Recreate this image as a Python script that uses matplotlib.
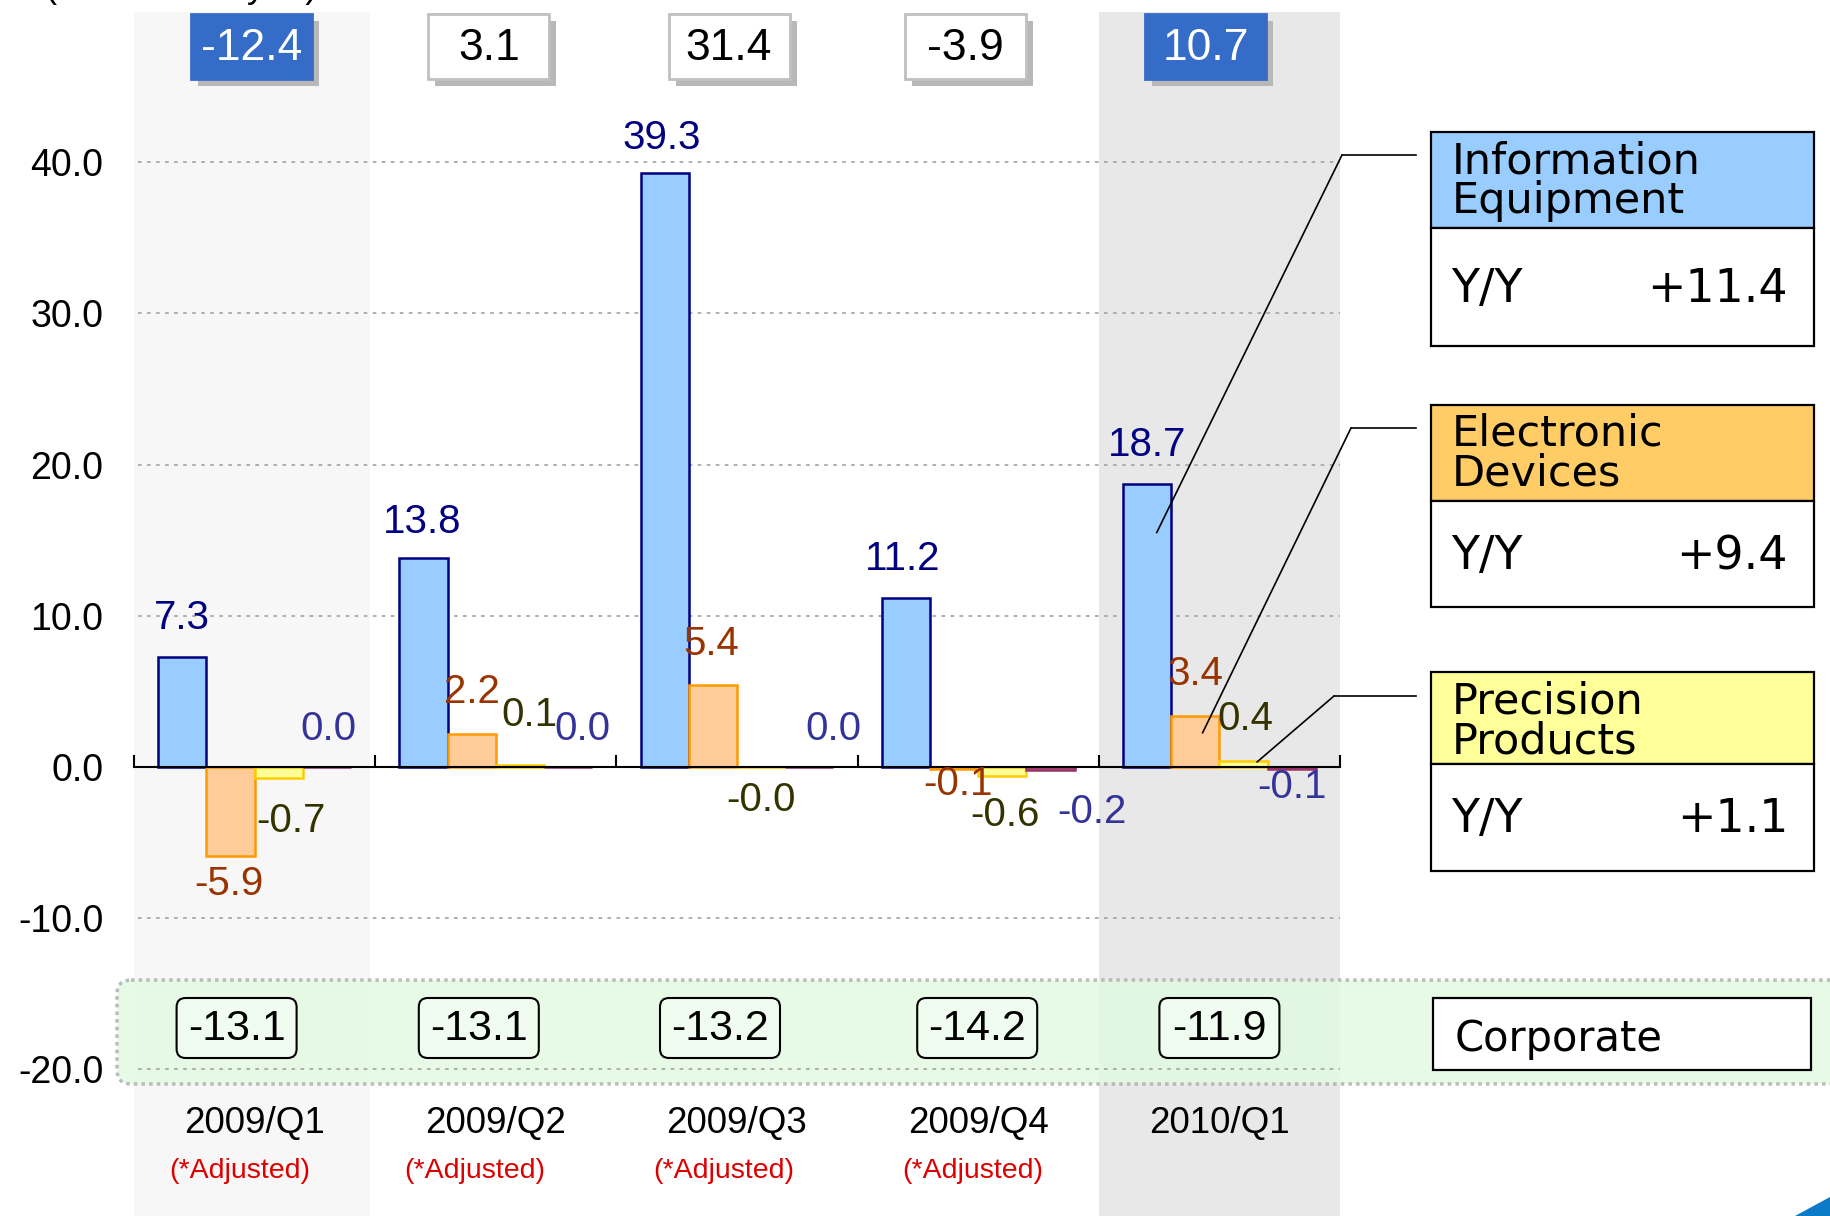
import matplotlib
matplotlib.use("Agg")
import matplotlib.pyplot as plt
import matplotlib.transforms as mtransforms
from matplotlib.patches import Rectangle, FancyBboxPatch, Polygon
import numpy as np

# ---- data ----
quarters = ["2009/Q1", "2009/Q2", "2009/Q3", "2009/Q4", "2010/Q1"]
adjusted = [True, True, True, True, False]
info_equip = [7.3, 13.8, 39.3, 11.2, 18.7]
elec_dev = [-5.9, 2.2, 5.4, -0.1, 3.4]
precision = [-0.7, 0.1, -0.0, -0.6, 0.4]
others = [0.0, 0.0, 0.0, -0.2, -0.1]
totals = [-12.4, 3.1, 31.4, -3.9, 10.7]
corporate = [-13.1, -13.1, -13.2, -14.2, -11.9]
highlight = [True, False, False, False, True]
seg_names = [["Information", "Equipment"], ["Electronic", "Devices"], ["Precision", "Products"]]
seg_yy = ["+11.4", "+9.4", "+1.1"]

# ---- styling / layout ----
W, H = 1830, 1216
fills = ['#99ccff', '#ffcc99', '#ffff99', '#cc6699']
edges = ['#000080', '#ff9900', '#ffcc00', '#993366']
lab_colors = ['#000080', '#993300', '#333300', '#333399']
head_colors = ['#99ccff', '#ffcc66', '#ffff99']
offsets = [-0.3, -0.1, 0.1, 0.3]
# label offsets in points (dx, dy) per series / quarter
lab_dx = [[0, -1, -2, -2, 0], [-1, 0, -1, 3, 0], [9, 7, 0, 2, 1], [1, 10, 17, 30, 0]]
lab_dy = [[28, 26, 25, 28, 28], [-20, 30, 30, -11, 30], [-31, 36, -24, -28, 30], [27, 27, 27, -30, -13]]
top_dx = [-3, -7, -8, -13, -14]
corp_dx = [-18, -17, -17, -1, 0]
adj_dx = [-15, -21, -13, -5, 0]

NARROW = ['Liberation Sans Narrow', 'Liberation Sans']
ARIAL = 'Liberation Sans'
WIDE = 'DejaVu Sans'

fig = plt.figure(figsize=(W / 100, H / 100), dpi=100)
# pixel coords from the top-left corner of the figure
px = mtransforms.Affine2D().scale(1 / W, -1 / H).translate(0, 1) + fig.transFigure

ax = fig.add_axes([134 / W, 0, 1206 / W, 1])
ax.set_xlim(-0.5, 4.5)
zero_px, unit_px = 767, 15.12
ax.set_ylim(-(H - zero_px) / unit_px, zero_px / unit_px)
ax.patch.set_alpha(0)

x = np.arange(len(quarters))

# shaded columns
ax.axvspan(-0.52, 0.48, ymin=0, ymax=1 - 12 / H, color='#f7f7f7', zorder=0, lw=0)
ax.axvspan(3.5, 4.5, ymin=0, ymax=1 - 12 / H, color='#e8e8e8', zorder=0, lw=0)

# corporate band
band = FancyBboxPatch((117, 980), 1800, 104, boxstyle="round,pad=0,rounding_size=14",
                      transform=px, fc='#e2fae2', ec='#b0b0b0', lw=2.5, ls=(0, (1, 1.2)),
                      alpha=0.85, zorder=0.8, clip_on=False)
ax.add_patch(band)

# grid
ax.hlines([-20, -10, 10, 20, 30, 40], -0.52, 4.5, colors='#a8a8a8',
          linestyles=(0, (2, 3)), lw=1.3, zorder=1)

# axes
ax.set_yticks(np.arange(-20, 41, 10))
ax.set_yticklabels([f"{t:.1f}" for t in np.arange(-20, 41, 10)], fontsize=27, family=ARIAL)
ax.tick_params(axis='y', length=0, pad=22)
ax.set_xticks(np.arange(-0.5, 5, 1))
ax.tick_params(axis='x', direction='in', length=9, width=1.5, labelbottom=False)
ax.spines['bottom'].set_position(('data', 0))
ax.spines['bottom'].set_linewidth(1.5)
for s in ['left', 'right', 'top']:
    ax.spines[s].set_visible(False)

# bars + labels
series = [info_equip, elec_dev, precision, others]
for s, vals in enumerate(series):
    ax.bar(x + offsets[s], vals, 0.2, color=fills[s], edgecolor=edges[s], lw=1.8, zorder=2)
    for i, v in enumerate(vals):
        ax.annotate(f"{v:.1f}", (x[i] + offsets[s], v), xytext=(lab_dx[s][i], lab_dy[s][i]),
                    textcoords='offset points', ha='center', va='center',
                    fontsize=29, family=ARIAL, color=lab_colors[s], zorder=3)

# group centres in pixel coords
centres = [ax.transData.transform((i, 0))[0] for i in x]

# top total boxes
bw, bh = 121, 65
for i, t in enumerate(totals):
    cx = centres[i] + top_dx[i]
    ax.add_patch(Rectangle((cx - bw / 2 + 7, 14 + 7), bw, bh, transform=px, fc='#b8b8b8',
                           ec='none', zorder=5, clip_on=False))
    if highlight[i]:
        fc, ec, tc = '#356cc8', '#356cc8', 'white'
    else:
        fc, ec, tc = 'white', '#c0c0c0', 'black'
    ax.add_patch(Rectangle((cx - bw / 2, 14), bw, bh, transform=px, fc=fc, ec=ec,
                           lw=2, zorder=6, clip_on=False))
    ax.text(cx, 48, f"{t:.1f}", transform=px, ha='center', va='center', fontsize=32,
            family=ARIAL, color=tc, zorder=7)

# corporate boxes
for i, c in enumerate(corporate):
    cx = centres[i] + corp_dx[i]
    ax.add_patch(FancyBboxPatch((cx - 60, 998), 120, 60, boxstyle="round,pad=0,rounding_size=9",
                                transform=px, fc='#f0fcf0', ec='black', lw=1.5, zorder=5,
                                clip_on=False))
    ax.text(cx, 1029, f"{c:.1f}", transform=px, ha='center', va='center', fontsize=31,
            family=ARIAL, zorder=6)

# category labels
for i, q in enumerate(quarters):
    ax.text(centres[i], 1124, q, transform=px, ha='center', va='center', fontsize=26.5,
            family=NARROW, zorder=6)
    if adjusted[i]:
        ax.text(centres[i] + adj_dx[i], 1171, "(*Adjusted)", transform=px, ha='center',
                va='center', fontsize=20.5, family=NARROW, color='#dd0000', zorder=6)

# segment legend boxes
tops = [132, 405, 672]
head_h = [96, 96, 92]
body_h = [118, 106, 107]
for k in range(3):
    t = tops[k]
    ax.add_patch(Rectangle((1431, t), 383, head_h[k], transform=px, fc=head_colors[k],
                           ec='black', lw=1.6, zorder=5, clip_on=False))
    ax.add_patch(Rectangle((1431, t + head_h[k]), 383, body_h[k], transform=px, fc='white',
                           ec='black', lw=1.6, zorder=5, clip_on=False))
    ax.text(1452, t + 41, seg_names[k][0], transform=px, va='baseline', ha='left',
            fontsize=31, family=WIDE, zorder=6)
    ax.text(1452, t + 81, seg_names[k][1], transform=px, va='baseline', ha='left',
            fontsize=31, family=WIDE, zorder=6)
    base = t + head_h[k] + body_h[k] / 2 + 15
    ax.text(1451, base, "Y/Y", transform=px, va='baseline', ha='left', fontsize=33,
            family=WIDE, zorder=6)
    ax.text(1788, base, seg_yy[k], transform=px, va='baseline', ha='right', fontsize=33,
            family=WIDE, zorder=6)

# corporate legend box
ax.add_patch(Rectangle((1433, 998), 378, 72, transform=px, fc='white', ec='black', lw=1.6,
                       zorder=5, clip_on=False))
ax.text(1455, 1051, "Corporate", transform=px, va='baseline', ha='left', fontsize=30,
        family=WIDE, zorder=6)

# leader lines from legend boxes into the 2010/Q1 bars
elbows = [(1342, 155), (1351, 428), (1334, 696)]
tip_dx = [0.04, 0.03, 0.056]
tip_y = [15.5, 2.25, 0.33]
for k in range(3):
    ex, ey = elbows[k]
    ax.plot([1416, ex], [ey, ey], transform=px, color='black', lw=1.2, zorder=4, clip_on=False)
    ax.annotate('', xy=(4 + offsets[k] + tip_dx[k], tip_y[k]), xycoords='data',
                xytext=(ex, ey), textcoords=px,
                arrowprops=dict(arrowstyle='-', color='black', lw=1.2, shrinkA=0, shrinkB=0),
                zorder=4)

# unit note, cropped at the top edge as in the original slide
ax.text(45, -3, "(Unit: Billion yen)", transform=px, va='baseline', ha='left',
        fontsize=26, family=ARIAL, zorder=6, clip_on=False)
ax.add_patch(Polygon([(1795, 1216), (1830, 1197), (1830, 1216)], closed=True, transform=px,
                     fc='#0b7bc7', ec='none', zorder=6, clip_on=False))

fig.savefig("out.png", dpi=100)
